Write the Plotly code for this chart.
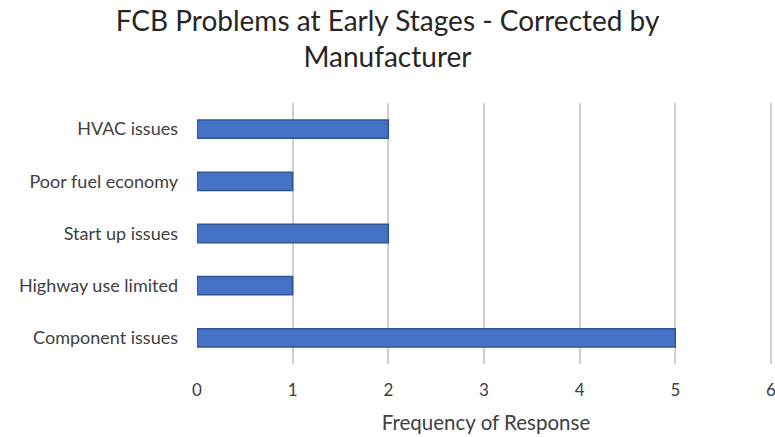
import plotly.graph_objects as go

# Survey responses: problems fixed by the manufacturer
categories = ["Component issues", "Highway use limited", "Start up issues",
              "Poor fuel economy", "HVAC issues"]
frequency = [5, 1, 2, 1, 2]
tick_values = [0, 1, 2, 3, 4, 5, 6]

fig = go.Figure(
    go.Bar(
        x=frequency,
        y=categories,
        orientation="h",
        marker=dict(color="#4472C4", line=dict(color="#2F5597", width=1.5)),
    )
)

font_family = "Lato, Open Sans, sans-serif"

fig.update_layout(
    width=775,
    height=437,
    margin=dict(l=197, r=0, t=103, b=73),
    paper_bgcolor="white",
    plot_bgcolor="white",
    bargap=0.65,
    showlegend=False,
    font=dict(family=font_family, color="#404040", size=16),
    title=dict(
        text="FCB Problems at Early Stages - Corrected by<br>Manufacturer",
        x=0.5,
        xanchor="center",
        y=0.929,
        yanchor="middle",
        font=dict(family=font_family, size=28, color="#262626"),
    ),
)

fig.update_xaxes(
    range=[0, 6.042],
    tickvals=tick_values,
    showgrid=True,
    gridcolor="#CFCFCF",
    gridwidth=2,
    zeroline=False,
    showline=False,
    ticks="",
    ticklabeloverflow="allow",
    ticklabelstandoff=14,
    tickfont=dict(size=17, color="#404040"),
    title=dict(text="Frequency of Response", font=dict(size=20.5, color="#404040"), standoff=16),
)

fig.update_yaxes(
    showgrid=False,
    showline=False,
    ticks="",
    ticklabelstandoff=18,
    tickfont=dict(size=18, color="#404040"),
)

fig.write_html("out.html")
